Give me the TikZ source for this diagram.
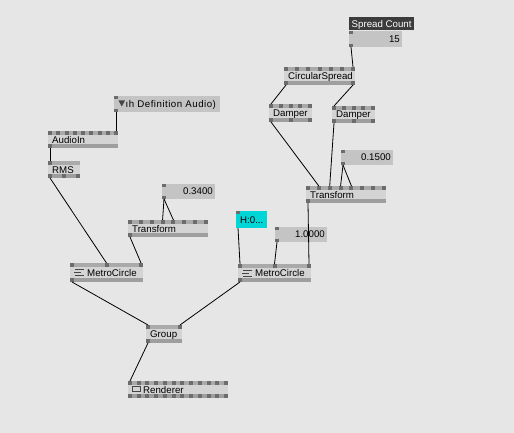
\documentclass[tikz,border=0pt]{standalone}
\usepackage{fontspec}
\setmainfont{Liberation Sans}
\definecolor{bgc}{RGB}{230,230,230}
\definecolor{bodyc}{RGB}{212,212,212}
\definecolor{stripc}{RGB}{170,170,170}
\definecolor{stripb}{RGB}{158,158,158}
\definecolor{pinc}{RGB}{108,108,108}
\definecolor{valc}{RGB}{196,196,196}
\definecolor{cyanc}{RGB}{0,214,214}
\definecolor{labc}{RGB}{60,60,60}
\definecolor{iconc}{RGB}{70,70,70}
\newcommand{\vvpins}[6]{%
  \ifnum#4=1\relax
    \fill[pinc] (#1,#3) rectangle ++(4,4);
    \coordinate (#51) at (#1+2,#6);
  \else
    \foreach \k in {1,...,#4}{%
      \pgfmathsetmacro\px{#1+(\k-1)*(#2-#1-4)/(#4-1)}%
      \fill[pinc] (\px,#3) rectangle ++(4,4);
      \coordinate (#5\k) at (\px+2,#6);
    }%
  \fi}
\newcommand{\vvnode}[9]{%
  \fill[stripc] (#2,#3) rectangle (#4,#3+4);
  \fill[bodyc] (#2,#3+4) rectangle (#4,#5-4);
  \fill[stripb] (#2,#5-4) rectangle (#4,#5);
  \vvpins{#2}{#4}{#3}{#6}{#1-i}{#3}
  \vvpins{#2}{#4}{#5-4}{#7}{#1-o}{#5}
  \node[lbl,anchor=base west] (#1) at (#2+#9,{(#3+#5)/2+3.5}) {#8};
}
\newcommand{\vvio}[7]{% name x1 y1 x2 y2 text fill
  \fill[#7] (#2,#3) rectangle (#4,#5);
  \fill[pinc] (#2,#3) rectangle ++(4,3);
  \fill[pinc] (#2,#5-3) rectangle ++(4,3);
  \coordinate (#1-i) at (#2+2,#3);
  \coordinate (#1-o) at (#2+2,#5);
  \node[lbl,anchor=base east] (#1) at (#4-2,{(#3+#5)/2+3.4}) {#6};
}
\begin{document}
\begin{tikzpicture}[x=1pt,y=-1pt,
  lbl/.style={inner sep=0pt,font=\fontsize{9.7}{10}\selectfont},
  wire/.style={draw=black,line width=0.8pt}]
\useasboundingbox (0,0) rectangle (514,433);
\fill[bgc] (0,0) rectangle (514,433);

% device IO box
\fill[valc] (114,96) rectangle (220,112);
\fill[pinc] (114,96) rectangle ++(4,3);
\fill[pinc] (114,109) rectangle ++(4,3);
\coordinate (dev-o) at (116,112);
\node[lbl,anchor=base west] (dev) at (125.5,107.5) {\addfontfeature{LetterSpace=5}ıh Definition Audio)};
\fill[iconc] (118.5,100.5) -- (125,100.5) -- (121.75,106.5) -- cycle;

\vvnode{ain}{48}{131}{118}{148}{9}{1}{AudioIn}{4}
\vvnode{rms}{48}{161}{80}{178}{1}{3}{RMS}{4}

\vvio{vb}{162}{184}{215}{199}{0.3400}{valc}
\vvnode{trl}{128}{220}{208}{237}{8}{1}{Transform}{4}

\vvnode{mcl}{70}{263}{143}{282}{3}{1}{MetroCircle}{17}
\draw[iconc,line width=1pt] (75,269.5) -- (84,269.5) (74,272.5) -- (81,272.5) (75,275.5) -- (84,275.5);

% Spread Count
\fill[labc] (349,17) rectangle (414,30.5);
\node[lbl,anchor=base west,text=white] (sclab) at (351.5,27.5) {Spread Count};
\vvio{sc}{349}{31}{402}{47}{15}{valc}

\vvnode{cs}{284}{67}{355}{85}{7}{2}{CircularSpread}{4}
\vvnode{dl}{269}{104}{312}{122}{5}{3}{Damper}{4}
\vvnode{dr}{332}{106}{375}{123}{5}{3}{Damper}{4}

\vvio{vc}{341}{150}{393}{165}{0.1500}{valc}
\vvnode{trr}{306}{186}{386}{203}{8}{1}{Transform}{4}

% cyan box
\fill[cyanc] (236,211) rectangle (267,228);
\fill[pinc] (236,211) rectangle ++(4,3);
\coordinate (hb-o) at (238,228);
\node[lbl,anchor=base west] (hb) at (240,223) {H:0...};

\vvio{vd}{275}{227}{327}{242}{1.0000}{valc}
\vvnode{mcr}{238}{264}{311}{282}{3}{1}{MetroCircle}{17}
\draw[iconc,line width=1pt] (243,270.5) -- (252,270.5) (242,273.5) -- (249,273.5) (243,276.5) -- (252,276.5);

\vvnode{grp}{146}{325}{182}{343}{2}{1}{Group}{4}

\vvnode{rnd}{128}{381}{228}{398}{12}{12}{Renderer}{15}
\draw[iconc,line width=0.6pt] (132.5,386.5) rectangle (140.5,391.5);

% wires
\draw[wire] (dev-o) -- (ain-i9);
\draw[wire] (ain-o1) -- (rms-i1);
\draw[wire] (rms-o1) -- (mcl-i2);
\draw[wire] (vb-o) -- (trl-i4);
\draw[wire] (vb-o) -- (trl-i5);
\draw[wire] (trl-o1) -- (mcl-i3);
\draw[wire] (mcl-o1) -- (grp-i1);
\draw[wire] (mcr-o1) -- (grp-i2);
\draw[wire] (grp-o1) -- (rnd-i1);
\draw[wire] (hb-o) -- (mcr-i1);
\draw[wire] (vd-o) -- (mcr-i2);
\draw[wire] (trr-o1) -- (mcr-i3);
\draw[wire] (vc-o) -- (trr-i4);
\draw[wire] (vc-o) -- (trr-i5);
\draw[wire] (dl-o1) -- (trr-i2);
\draw[wire] (dr-o1) -- (trr-i3);
\draw[wire] (cs-o1) -- (dl-i1);
\draw[wire] (cs-o2) -- (dr-i1);
\draw[wire] (sc-o) -- (cs-i7);
\end{tikzpicture}
\end{document}
